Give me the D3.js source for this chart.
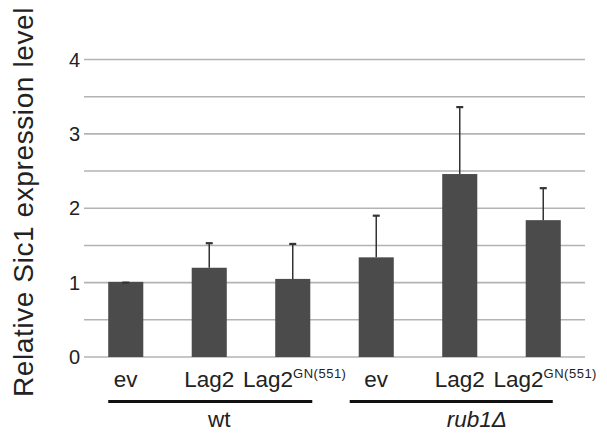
<!DOCTYPE html>
<html>
<head>
<meta charset="utf-8">
<script src="https://cdn.jsdelivr.net/npm/d3@7"></script>
<style>
    body { margin: 0; background: #fff; }
    text { font-family: "Liberation Sans", Arial, sans-serif; fill: #222; }
</style>
</head>
<body>
<div id="graph"></div>
<script>
//chart data
const categories = ["ev", "Lag2", "Lag2GN", "ev", "Lag2", "Lag2GN"];
const values = [1.01, 1.20, 1.05, 1.34, 2.46, 1.84];
const upperErrors = [1.00, 1.53, 1.52, 1.90, 3.36, 2.27];
const yTicks = [0, 1, 2, 3, 4];
const gridValues = [0, 0.5, 1, 1.5, 2, 2.5, 3, 3.5, 4];
const groups = [
    { name: "wt", first: 0, last: 2, italic: false },
    { name: "rub1\u0394", first: 3, last: 5, italic: true }
];

const width = 607, height = 434;

const svg = d3.select("#graph").append("svg")
    .attr("width", width)
    .attr("height", height);

//scales
const x = d3.scaleBand()
    .domain(d3.range(categories.length))
    .range([84, 585])
    .paddingInner(0.58)
    .paddingOuter(0.29);

const y = d3.scaleLinear()
    .domain([0, 4])
    .range([357, 59.5]);

//grid lines
svg.append("g").selectAll("line")
    .data(gridValues)
    .enter().append("line")
    .attr("x1", 84)
    .attr("x2", 585)
    .attr("y1", function(d){ return y(d); })
    .attr("y2", function(d){ return y(d); })
    .attr("stroke", "#b3b3b3")
    .attr("stroke-width", 1.6);

//y tick labels
svg.append("g").selectAll("text")
    .data(yTicks)
    .enter().append("text")
    .attr("x", 80)
    .attr("y", function(d){ return y(d); })
    .attr("dy", "0.36em")
    .attr("text-anchor", "end")
    .style("font-size", "20px")
    .text(function(d){ return d; });

//bars
svg.append("g").selectAll("rect")
    .data(values)
    .enter().append("rect")
    .attr("x", function(d, i){ return x(i); })
    .attr("y", function(d){ return y(d); })
    .attr("width", x.bandwidth())
    .attr("height", function(d){ return y(0) - y(d); })
    .attr("fill", "#4b4b4b");

//error bars
const errs = svg.append("g")
    .attr("stroke", "#333")
    .attr("stroke-width", 1.5);

errs.selectAll("line.stem")
    .data(upperErrors)
    .enter().append("line")
    .attr("class", "stem")
    .attr("x1", function(d, i){ return x(i) + x.bandwidth() / 2; })
    .attr("x2", function(d, i){ return x(i) + x.bandwidth() / 2; })
    .attr("y1", function(d, i){ return y(values[i]); })
    .attr("y2", function(d){ return y(d); });

errs.selectAll("line.cap")
    .data(upperErrors)
    .enter().append("line")
    .attr("class", "cap")
    .attr("x1", function(d, i){ return x(i) + x.bandwidth() / 2 - 3.5; })
    .attr("x2", function(d, i){ return x(i) + x.bandwidth() / 2 + 3.5; })
    .attr("y1", function(d){ return y(d); })
    .attr("y2", function(d){ return y(d); })
    .attr("stroke-width", 2.2);

//category labels, superscript for the mutant
const labels = svg.append("g").selectAll("text")
    .data(categories)
    .enter().append("text")
    .attr("x", function(d, i){ return x(i) + x.bandwidth() / 2 + (d === "Lag2GN" ? 2 : 0); })
    .attr("y", 387)
    .attr("text-anchor", "middle")
    .style("font-size", "22.5px");

labels.each(function(d){
    const t = d3.select(this);
    if (d === "Lag2GN") {
        t.append("tspan").text("Lag2");
        t.append("tspan")
            .attr("dy", -9)
            .style("font-size", "13px")
            .style("letter-spacing", "0.5px")
            .text("GN(551)");
    } else {
        t.text(d);
    }
});

//group lines and names
svg.append("g").selectAll("line")
    .data(groups)
    .enter().append("line")
    .attr("x1", function(d){ return x(d.first) - (d.first ? 9 : 0); })
    .attr("x2", function(d){ return x(d.last) + x.bandwidth() + (d.first ? -8 : 2); })
    .attr("y1", 401.5)
    .attr("y2", 401.5)
    .attr("stroke", "#111")
    .attr("stroke-width", 2.8);

svg.append("g").selectAll("text")
    .data(groups)
    .enter().append("text")
    .attr("x", function(d){ return (x(d.first) + x(d.last) + x.bandwidth()) / 2 + (d.first ? 17 : 10); })
    .attr("y", 427)
    .attr("text-anchor", "middle")
    .style("font-size", "22.5px")
    .style("font-style", function(d){ return d.italic ? "italic" : "normal"; })
    .text(function(d){ return d.name; });

//y axis title
svg.append("text")
    .attr("transform", "translate(33,202) rotate(-90)")
    .attr("text-anchor", "middle")
    .style("font-size", "28px")
    .style("letter-spacing", "0.6px")
    .text("Relative Sic1 expression level");
</script>
</body>
</html>
